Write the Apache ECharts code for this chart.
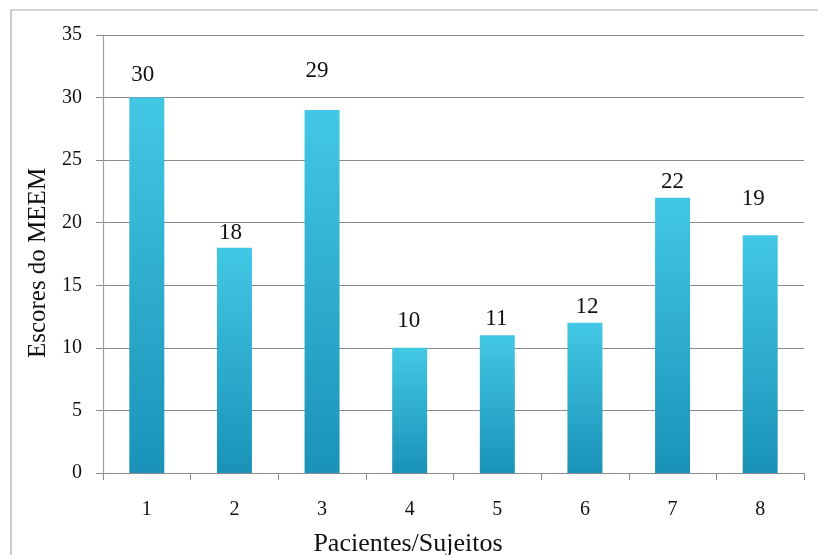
<!DOCTYPE html>
<html>
<head>
<meta charset="utf-8">
<script src="https://cdn.jsdelivr.net/npm/echarts@6/dist/echarts.min.js"></script>
<style>
  html, body { margin: 0; padding: 0; background: #fff; }
  #chart { width: 818px; height: 555px; }
</style>
</head>
<body>
<div id="chart"></div>
<script>
// MEEM scores per patient
const categories = ['1', '2', '3', '4', '5', '6', '7', '8'];
const scores = [30, 18, 29, 10, 11, 12, 22, 19];
const yTicks = [0, 5, 10, 15, 20, 25, 30, 35];

// hand-placed value labels: gap above the bar and sideways nudge (px)
const labelGap = [11, 3, 28, 15, 5, 4, 4, 25];
const labelShift = [-4, -4, -5, -1, -1, 2, 0, -7];

const serif = '"Liberation Serif", "DejaVu Serif", serif';

const barData = scores.map((v, i) => ({
  value: v,
  label: { distance: labelGap[i], offset: [labelShift[i], 0] }
}));

const chart = echarts.init(document.getElementById('chart'));
chart.setOption({
  backgroundColor: '#ffffff',
  animation: false,
  graphic: [{
    type: 'rect',
    shape: { x: 11, y: 10, width: 830, height: 570 },
    style: { fill: 'none', stroke: '#a8a8a8', lineWidth: 1.2 },
    silent: true
  }],
  grid: { left: 103, right: 14, top: 35, bottom: 82, outerBoundsMode: 'none', containLabel: false },
  xAxis: {
    type: 'category',
    data: categories,
    name: 'Pacientes/Sujeitos',
    nameLocation: 'middle',
    nameGap: 58,
    nameTextStyle: { fontFamily: serif, fontSize: 26, color: '#111', padding: [0, 91, 0, 0] },
    axisLine: { lineStyle: { color: '#8c8c8c', width: 1.2 } },
    axisTick: { show: true, length: 7, alignWithLabel: false, lineStyle: { color: '#8c8c8c' } },
    axisLabel: { fontFamily: serif, fontSize: 20, color: '#111', margin: 27 }
  },
  yAxis: {
    type: 'value',
    min: yTicks[0],
    max: yTicks[yTicks.length - 1],
    interval: 5,
    name: 'Escores do MEEM',
    nameLocation: 'middle',
    nameGap: 46,
    nameRotate: 90,
    nameTextStyle: { fontFamily: serif, fontSize: 25, color: '#111', padding: [0, 18, 0, 0] },
    axisLine: { show: true, lineStyle: { color: '#a0a0a0', width: 1.2 } },
    axisTick: { show: true, length: 7, lineStyle: { color: '#8c8c8c' } },
    axisLabel: { fontFamily: serif, fontSize: 20, color: '#111', margin: 21 },
    splitLine: { lineStyle: { color: '#8a8a8a', width: 1.2 } }
  },
  series: [{
    type: 'bar',
    data: barData,
    barWidth: 35,
    itemStyle: {
      color: new echarts.graphic.LinearGradient(0, 0, 0, 1, [
        { offset: 0, color: '#42c8e4' },
        { offset: 1, color: '#1a92b8' }
      ])
    },
    label: {
      show: true,
      position: 'top',
      fontFamily: serif,
      fontSize: 23,
      color: '#111'
    }
  }]
});
</script>
</body>
</html>
